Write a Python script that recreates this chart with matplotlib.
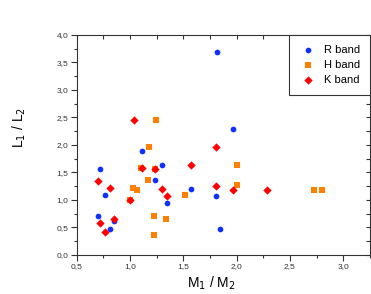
import numpy as np
import matplotlib
matplotlib.use('Agg')
from matplotlib import pyplot as plt, ticker

plt.rcParams['font.family'] = ['Liberation Sans', 'DejaVu Sans']

# R band
r_x = [0.697, 0.722, 0.769, 0.816, 0.853, 1.112, 1.237, 1.297, 1.344, 1.569,
       1.815, 1.968, 1.808, 1.840]
r_y = [0.709, 1.558, 1.091, 0.473, 0.624, 1.897, 1.358, 1.636, 0.945, 1.194,
       3.690, 2.285, 1.073, 0.467]
# H band
h_x = [1.003, 1.028, 1.062, 1.100, 1.169, 1.175, 1.237, 1.228, 1.225, 1.337,
       1.512, 1.243, 2.000, 2.006, 2.730, 2.805]
h_y = [1.006, 1.218, 1.188, 1.576, 1.358, 1.970, 1.564, 0.709, 0.358, 0.661,
       1.091, 2.455, 1.642, 1.273, 1.182, 1.182]
# K band
k_x = [0.700, 0.722, 0.769, 0.816, 0.853, 1.003, 1.112, 1.237, 1.297, 1.347,
       1.569, 1.040, 1.810, 1.808, 1.965, 2.280]
k_y = [1.345, 0.582, 0.424, 1.212, 0.655, 1.000, 1.576, 1.564, 1.194, 1.079,
       1.642, 2.455, 1.970, 1.261, 1.182, 1.182]

fig = plt.figure(figsize=(3.71, 2.94), dpi=100)
ax = fig.add_axes([0.207, 0.133, 0.79, 0.748])

ax.scatter(r_x, r_y, s=17, marker='o', c='#1030ff', lw=0, label='R band', zorder=3)
ax.scatter(h_x, h_y, s=14, marker='s', c='#ff7f00', lw=0, label='H band', zorder=3)
ax.scatter(k_x, k_y, s=18, marker='D', c='#ff0000', lw=0, label='K band', zorder=3)

ax.set_xlim((0.5, 3.25))
ax.set_ylim((0, 4.0))

comma = ticker.FuncFormatter(lambda v, p: ('%.1f' % v).replace('.', ','))
ax.xaxis.set_major_locator(ticker.MultipleLocator(0.5))
ax.xaxis.set_minor_locator(ticker.MultipleLocator(0.25))
ax.yaxis.set_major_locator(ticker.MultipleLocator(0.5))
ax.yaxis.set_minor_locator(ticker.MultipleLocator(0.25))
ax.xaxis.set_major_formatter(comma)
ax.yaxis.set_major_formatter(comma)

ax.tick_params(which='both', direction='out', top=False, right=False,
               labelsize=6, colors='#333333', width=0.8, pad=2)
ax.tick_params(which='major', length=4)
ax.tick_params(which='minor', length=2.5)

# inward ticks on top and right
ax2 = ax.secondary_xaxis('top')
ax2.xaxis.set_major_locator(ticker.MultipleLocator(0.5))
ax2.xaxis.set_minor_locator(ticker.MultipleLocator(0.25))
ax2.tick_params(which='both', direction='in', length=3, labeltop=False,
                colors='#333333', width=0.8)
ay2 = ax.secondary_yaxis('right')
ay2.yaxis.set_major_locator(ticker.MultipleLocator(0.5))
ay2.yaxis.set_minor_locator(ticker.MultipleLocator(0.25))
ay2.tick_params(which='both', direction='in', length=3, labelright=False,
                colors='#333333', width=0.8)
for a in (ax2, ay2):
    for s in a.spines.values():
        s.set_visible(False)

for s in ax.spines.values():
    s.set_color('#333333')
    s.set_linewidth(0.8)

ax.set_xlabel(r'M$_1$ / M$_2$', fontsize=10)
ax.set_ylabel(r'L$_1$ / L$_2$', fontsize=10)
ax.yaxis.set_label_coords(-0.165, 0.58)
ax.xaxis.set_label_coords(0.46, -0.09)

leg = ax.legend(loc='upper right', borderaxespad=0, fancybox=False, fontsize=8,
                handletextpad=0.6, labelspacing=0.45, borderpad=0.9,
                handlelength=1.6, edgecolor='#333333', framealpha=1)
leg.get_frame().set_linewidth(0.8)

fig.savefig('out.png', dpi=100)
